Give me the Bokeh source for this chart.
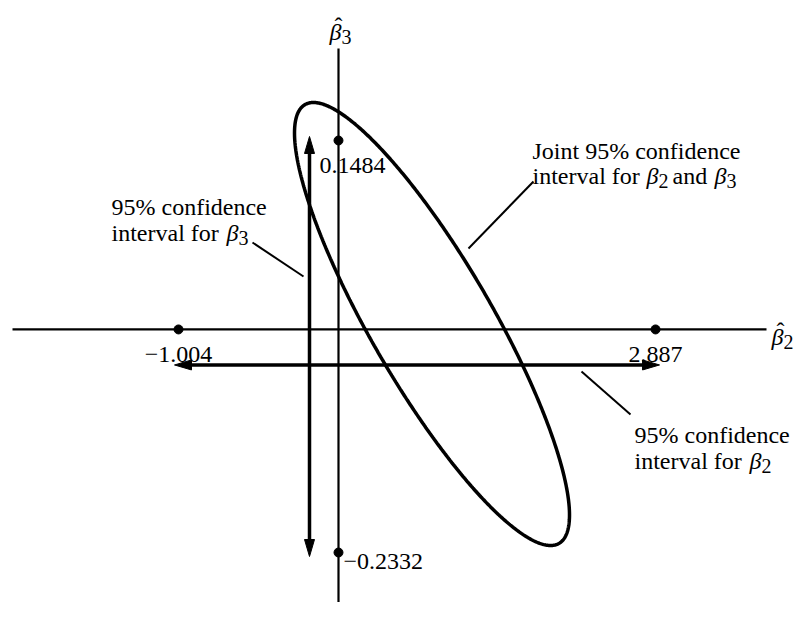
import numpy as np
from bokeh.plotting import figure
from bokeh.models import Range1d, Label
from bokeh.embed import file_html
from bokeh.resources import INLINE

# ---------------- data ----------------
beta2_ci = [-1.004, 2.887]            # 95% CI for beta2
beta3_ci = [-0.2332, 0.1484]          # 95% CI for beta3
beta2_ci_labels = ["−1.004", "2.887"]
beta3_ci_labels = ["−0.2332", "0.1484"]
axis_cross = [0.301, -0.0266]         # (beta2, beta3) where the drawn axes cross (schematic)
beta3_ci_at_beta2 = 0.0645            # beta2 position of the vertical CI arrow
beta2_ci_at_beta3 = -0.0595           # beta3 position of the horizontal CI arrow
ellipse_center = [1.0637, -0.02155]   # joint confidence region
ellipse_half_extent = [1.1215, 0.20515]
ellipse_corr = -0.862

# ---------------- layout ----------------
W, H = 795, 602
X0, X1 = -2.4559, 4.0286
Y0, Y1 = -0.2795, 0.27806
KX = W / (X1 - X0)
KY = H / (Y1 - Y0)
FONT = "Liberation Serif"


def px_x(px):
    return X0 + px / KX


def px_y(py):
    return Y1 - py / KY


p = figure(width=W, height=H, x_range=Range1d(X0, X1), y_range=Range1d(Y0, Y1),
           output_backend="svg", toolbar_location=None, min_border=0,
           x_axis_location=None, y_axis_location=None)
p.grid.visible = False
p.outline_line_color = None
p.background_fill_color = "white"
p.border_fill_color = "white"

# axes
p.line([px_x(12), px_x(766)], [axis_cross[1], axis_cross[1]], line_width=2.2, color="black")
p.line([axis_cross[0], axis_cross[0]], [px_y(48), px_y(610)], line_width=2.2, color="black")

# ellipse
t = np.linspace(0, 2 * np.pi, 600)
ex = ellipse_center[0] + ellipse_half_extent[0] * np.cos(t)
ey = ellipse_center[1] + ellipse_half_extent[1] * (ellipse_corr * np.cos(t)
                                                   + np.sqrt(1 - ellipse_corr ** 2) * np.sin(t))
p.line(ex, ey, line_width=3.5, color="black")

# CI arrows
HEAD_L, HEAD_W, OVER = 17, 10, 4
# horizontal (beta2)
yh = beta2_ci_at_beta3
tipL = beta2_ci[0] - OVER / KX
tipR = beta2_ci[1] + OVER / KX
baseL = tipL + HEAD_L / KX
baseR = tipR - HEAD_L / KX
p.line([baseL, baseR], [yh, yh], line_width=3.5, color="black")
# vertical (beta3)
xv = beta3_ci_at_beta2
tipT = beta3_ci[1] + OVER / KY
tipB = beta3_ci[0] - OVER / KY
baseT = tipT - HEAD_L / KY
baseB = tipB + HEAD_L / KY
p.line([xv, xv], [baseB, baseT], line_width=3.5, color="black")
hw_y = HEAD_W / 2 / KY
hw_x = HEAD_W / 2 / KX
p.patches(
    [[tipL, baseL, baseL], [tipR, baseR, baseR], [xv, xv - hw_x, xv + hw_x], [xv, xv - hw_x, xv + hw_x]],
    [[yh, yh + hw_y, yh - hw_y], [yh, yh + hw_y, yh - hw_y], [tipT, baseT, baseT], [tipB, baseB, baseB]],
    color="black", line_width=1)

# dots on the axes
p.scatter(x=beta2_ci + [axis_cross[0]] * 2,
          y=[axis_cross[1]] * 2 + beta3_ci,
          size=9, color="black")


def label(text, x, y, size=24, style="normal", align="left"):
    p.add_layout(Label(x=x, y=y, text=text, text_font=FONT, text_font_size=f"{size}px",
                       text_font_style=style, text_align=align, text_baseline="alphabetic",
                       text_color="black"))


def plabel(text, px, py, **kw):
    label(text, px_x(px), px_y(py), **kw)


def beta(px, py, sub, hat=False):
    plabel("β", px, py, style="italic")
    plabel(sub, px + 12, py + 5, size=20)
    if hat:
        plabel("ˆ", px + 9, py - 6, align="center")


# value labels
for v, s in zip(beta2_ci, beta2_ci_labels):
    label(s, v, axis_cross[1] - 25 / KY, align="center")
label(beta3_ci_labels[1], axis_cross[0] - 19 / KX, beta3_ci[1] - 25 / KY)
label(beta3_ci_labels[0], axis_cross[0] + 5 / KX, beta3_ci[0] - 9 / KY)

# axis titles
beta(771, 336, "2", hat=True)
beta(329, 31, "3", hat=True)

# callout 1: CI for beta3
plabel("95% confidence", 111, 206)
plabel("interval for ", 111, 232)
beta(226, 232, "3")
p.line([px_x(252), px_x(303)], [px_y(242), px_y(276)], line_width=2, color="black")

# callout 2: joint
plabel("Joint 95% confidence", 532, 150)
plabel("interval for ", 532, 175)
beta(646, 175, "2")
plabel("and", 672, 175)
beta(714, 175, "3")
p.line([px_x(533), px_x(468)], [px_y(181), px_y(248)], line_width=2, color="black")

# callout 3: CI for beta2
plabel("95% confidence", 634, 434)
plabel("interval for ", 634, 460)
beta(749, 460, "2")
p.line([px_x(581), px_x(630)], [px_y(371), px_y(414)], line_width=2, color="black")

open("out.html", "w").write(file_html(p, INLINE))
